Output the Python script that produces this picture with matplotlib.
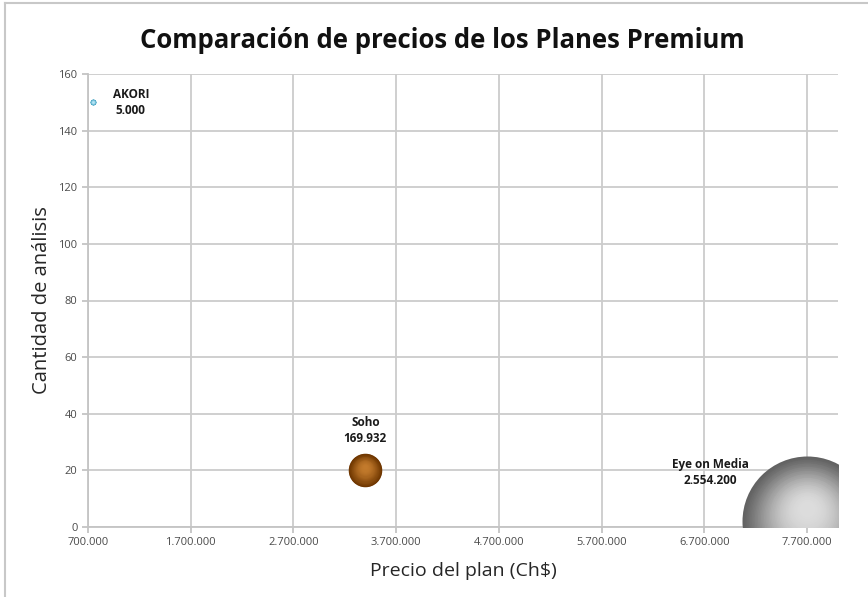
import numpy as np
import matplotlib.pyplot as plt
from matplotlib import transforms
from matplotlib.colors import to_rgb

plt.rcParams['font.family'] = ['Open Sans', 'DejaVu Sans']

# data
planes = ['AKORI', 'Soho', 'Eye on Media']
precio = [750000, 3400000, 7700000]
analisis = [150, 20, 2]
burbuja = [5000, 169932, 2554200]
etiquetas = ['5.000', '169.932', '2.554.200']
xticks = [700000, 1700000, 2700000, 3700000, 4700000, 5700000, 6700000, 7700000]
yticks = [0, 20, 40, 60, 80, 100, 120, 140, 160]

# sphere colours: (dark edge, light highlight)
colores = [('#3a9ec0', '#b8e8f8'), ('#6e3600', '#c27a2c'), ('#626262', '#dcdcdc')]

fig = plt.figure(figsize=(8.68, 5.97), dpi=100)
ax = fig.add_axes([88 / 868, 1 - 527 / 597, (838 - 88) / 868, (527 - 74) / 597])

escala = 8761 / 2554200  # marker area (pt^2) per bubble unit
n = 40
for x, y, b, (c0, c1) in zip(precio, analisis, burbuja, colores):
    s0 = b * escala
    r0 = np.sqrt(s0) / 2  # radius in points
    a0, a1 = np.array(to_rgb(c0)), np.array(to_rgb(c1))
    for k in range(n):
        t = k / (n - 1)
        f = 1 - 0.92 * t
        # shift highlight a little towards the top
        off = transforms.offset_copy(ax.transData, fig=fig,
                                     x=0.0, y=0.2 * r0 * t, units='points')
        col = a0 + (a1 - a0) * np.sin(t * np.pi / 2) ** 1.2
        ax.scatter([x], [y], s=s0 * f ** 2, color=col, linewidths=0,
                   transform=off, zorder=3 + k * 0.01)

# labels
estilo = dict(textcoords='offset points', fontsize=8.5, fontweight='bold',
              color='#1a1a1a', linespacing=1.3)
ax.annotate('AKORI\n' + etiquetas[0], (precio[0], analisis[0]), xytext=(14, 0),
            ha='left', va='center', multialignment='center', **estilo)
ax.annotate('Soho\n' + etiquetas[1], (precio[1], analisis[1]), xytext=(0, 18),
            ha='center', va='bottom', **estilo)
ax.annotate('Eye on Media\n' + etiquetas[2], (precio[2], analisis[2]), xytext=(-70, 35),
            ha='center', va='center', **estilo)

ax.set_xlim(700000, 8000000)
ax.set_ylim(0, 160)
ax.set_xticks(xticks)
ax.set_xticklabels([f'{v:,}'.replace(',', '.') for v in xticks])
ax.set_yticks(yticks)
ax.grid(True, color='#cccccc', linewidth=1.3)
ax.set_axisbelow(True)
for s in ['top', 'right']:
    ax.spines[s].set_visible(False)
for s in ['left', 'bottom']:
    ax.spines[s].set_color('#c4c4c4')
    ax.spines[s].set_linewidth(1.3)
ax.tick_params(colors='#c4c4c4', labelcolor='#4a4a4a', labelsize=8, length=4, width=1.3)

ax.set_xlabel('Precio del plan (Ch$)', fontsize=14, color='#262626', labelpad=10)
ax.set_ylabel('Cantidad de análisis', fontsize=14.5, color='#262626', labelpad=5)
fig.text(442 / 868, 1 - 40 / 597, 'Comparación de precios de los Planes Premium',
         ha='center', va='center', fontsize=18.5, fontweight='bold', color='#111111')

# outer chart border (left and top)
fig.add_artist(plt.Line2D([5 / 868, 5 / 868], [0, 1 - 3 / 597], color='#c8c8c8', lw=1.5))
fig.add_artist(plt.Line2D([5 / 868, 1], [1 - 3 / 597, 1 - 3 / 597], color='#c8c8c8', lw=1.5))

fig.savefig('out.png', dpi=100)
